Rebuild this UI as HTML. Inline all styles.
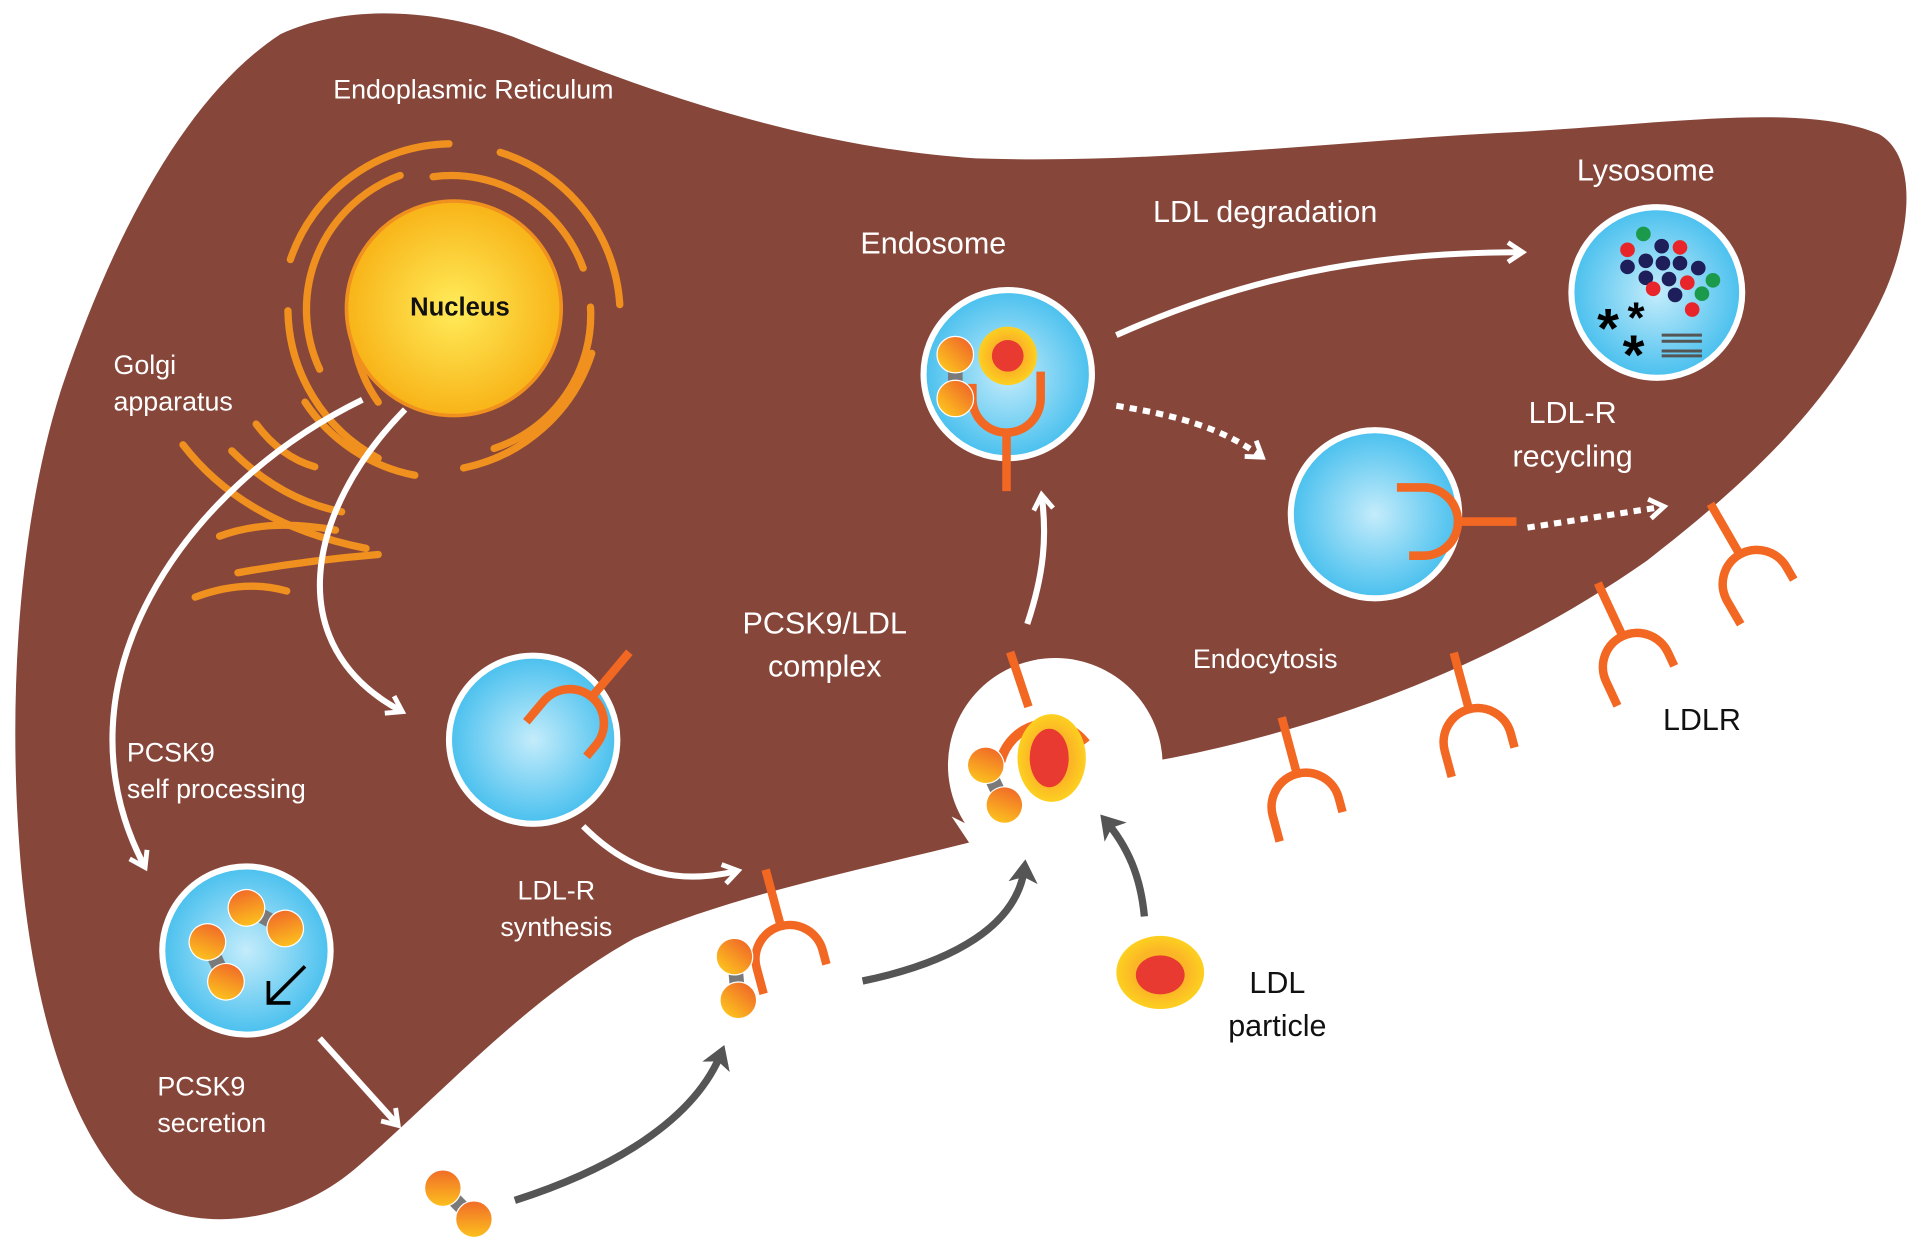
<!DOCTYPE html>
<html><head><meta charset="utf-8"><style>
html,body{margin:0;padding:0;background:#fff;}
svg{display:block;}
text{font-family:"Liberation Sans",sans-serif;}
</style></head><body>
<svg width="1913" height="1243" viewBox="0 0 1568 1020" preserveAspectRatio="none" xmlns="http://www.w3.org/2000/svg">
<defs>
<radialGradient id="ves" cx="50%" cy="50%" r="50%"><stop offset="0" stop-color="#c4ecfb"/><stop offset="1" stop-color="#49c0ee"/></radialGradient>
<radialGradient id="nuc" cx="50%" cy="50%" r="50%"><stop offset="0" stop-color="#ffec5a"/><stop offset="1" stop-color="#f8b418"/></radialGradient>
<linearGradient id="ball" x1="0" y1="1" x2="1" y2="0"><stop offset="0" stop-color="#ffd21c"/><stop offset="1" stop-color="#ee5a2a"/></linearGradient>
<radialGradient id="ldl" cx="50%" cy="50%" r="50%"><stop offset="0.6" stop-color="#fbb626"/><stop offset="1" stop-color="#fdd020"/></radialGradient>
<marker id="aw" viewBox="0 0 10 10" refX="6" refY="5" markerWidth="4" markerHeight="4" orient="auto" markerUnits="strokeWidth"><path d="M1,1 L7,5 L1,9" fill="none" stroke="#fff" stroke-width="2"/></marker>
<marker id="ag" viewBox="0 0 10 10" refX="6" refY="5" markerWidth="4" markerHeight="4" orient="auto" markerUnits="strokeWidth"><path d="M0,0 L8,5 L0,10 L2,5z" fill="#555"/></marker>
<g id="rec"><line x1="0" y1="-48" x2="0" y2="0" stroke="#f26722" stroke-width="7"/><path d="M-28,50 L-28,28 A28,28 0 0 1 28,28 L28,40" fill="none" stroke="#f26722" stroke-width="7"/></g>
<g id="dim"><line x1="0" y1="0" x2="0" y2="36" stroke="#7a7a7a" stroke-width="12"/><circle cx="0" cy="0" r="15" fill="url(#ball)" stroke="#fff" stroke-width="1"/><circle cx="0" cy="36" r="15" fill="url(#ball)" stroke="#fff" stroke-width="1"/></g>
</defs>
<path d="M230,28 C280,5 350,5 420,30 C520,70 650,120 800,130 C950,135 1100,115 1250,108 C1380,100 1480,85 1540,110 C1575,130 1565,200 1540,250 C1500,330 1440,390 1350,460 C1250,530 1120,590 960,622 L860,640 L800,690 C700,715 600,735 520,770 C430,820 360,900 290,960 C230,1010 150,1010 110,980 C60,930 30,840 18,720 C5,580 15,430 50,320 C90,200 150,80 230,28 Z" fill="#87463a"/>
<circle cx="865" cy="628" r="88" fill="#fff"/>
<path d="M780,670 L800,700 L840,700 Z" fill="#fff"/>
<g fill="none" stroke="#f0901e" stroke-width="6" stroke-linecap="round">
<path d="M328,144 A117,117 0 0 0 262,303"/>
<path d="M293,230 A118,118 0 0 0 310,330"/>
<path d="M250,330 A140,140 0 0 0 340,390"/>
<path d="M236,255 A140,140 0 0 0 310,376"/>
<path d="M238,213 A140,140 0 0 1 368,118"/>
<path d="M410,125 A140,140 0 0 1 508,250"/>
<path d="M355,145 A115,115 0 0 1 478,220"/>
<path d="M484,252 A115,115 0 0 1 405,368"/>
<path d="M485,290 A140,140 0 0 1 380,384"/>
<path d="M150,365 Q200,430 300,450"/>
<path d="M190,370 Q230,410 280,420"/>
<path d="M210,348 Q230,375 258,383"/>
<path d="M195,470 Q250,460 310,455"/>
<path d="M160,490 Q200,475 235,485"/>
<path d="M180,440 Q220,425 275,435"/>
</g>
<circle cx="372" cy="253" r="88" fill="url(#nuc)" stroke="#f0901e" stroke-width="3"/>
<text x="377" y="259" font-size="21" font-weight="bold" text-anchor="middle" fill="#111">Nucleus</text>
<g fill="none" stroke="#fff" stroke-width="5" marker-end="url(#aw)">
<path d="M297,328 C150,400 40,560 118,710"/>
<path d="M332,336 C250,420 230,530 328,583"/>
<path d="M478,678 C520,720 560,725 603,715"/>
<path d="M262,852 L325,922"/>
<path d="M842,512 C856,470 858,440 854,408"/>
<path d="M915,275 C1020,228 1120,207 1246,207"/>
<path d="M915,333 C960,340 1000,350 1033,374" stroke-dasharray="6 5"/>
<path d="M1252,433 L1362,416" stroke-dasharray="6 5"/>
</g>
<g fill="none" stroke="#555" stroke-width="6" marker-end="url(#ag)">
<path d="M422,985 C500,960 570,920 592,862"/>
<path d="M707,805 C780,790 835,760 840,710"/>
<path d="M938,752 C935,720 925,695 905,672"/>
</g>
<circle cx="437" cy="607" r="69" fill="url(#ves)" stroke="#fff" stroke-width="5"/>
<circle cx="202" cy="780" r="69" fill="url(#ves)" stroke="#fff" stroke-width="5"/>
<circle cx="826" cy="307" r="69" fill="url(#ves)" stroke="#fff" stroke-width="5"/>
<circle cx="1127" cy="422" r="69" fill="url(#ves)" stroke="#fff" stroke-width="5"/>
<circle cx="1358" cy="240" r="70" fill="url(#ves)" stroke="#fff" stroke-width="5"/>
<use href="#rec" transform="translate(485,572) rotate(40)"/>
<use href="#rec" transform="translate(825,355) rotate(180)"/>
<use href="#rec" transform="translate(1195,428) rotate(90)"/>
<use href="#rec" transform="translate(640,760) rotate(-15)"/>
<use href="#rec" transform="translate(1063,635) rotate(-15)"/>
<use href="#rec" transform="translate(1204,582) rotate(-15)"/>
<use href="#rec" transform="translate(1330,522) rotate(-25)"/>
<use href="#rec" transform="translate(1426,455) rotate(-30)"/>
<use href="#dim" transform="translate(783,291)"/>
<circle cx="826" cy="292" r="24" fill="url(#ldl)"/><circle cx="826" cy="292" r="13" fill="#e83a30"/>
<use href="#dim" transform="translate(202,745) rotate(-62)"/>
<use href="#dim" transform="translate(170,773) rotate(-25)"/>
<path d="M250,793 L220,823 M220,805 L220,823 L238,823" stroke="#000" stroke-width="3" fill="none"/>
<line x1="828" y1="535" x2="843" y2="580" stroke="#f26722" stroke-width="7"/>
<path d="M820,625 A40,42 0 0 1 890,610" fill="none" stroke="#f26722" stroke-width="8"/>
<ellipse cx="862" cy="622" rx="28" ry="36" fill="url(#ldl)"/><ellipse cx="860" cy="622" rx="16" ry="24" fill="#e83a30"/>
<use href="#dim" transform="translate(808,628) rotate(-25)"/>
<use href="#dim" transform="translate(602,785) rotate(-5)"/>
<use href="#dim" transform="translate(363,975) rotate(-45)"/>
<ellipse cx="951" cy="798" rx="36" ry="30" fill="url(#ldl)"/><ellipse cx="951" cy="800" rx="20" ry="16" fill="#e83a30"/>
<g>
<circle cx="1347" cy="192" r="6" fill="#1a9a4a"/>
<circle cx="1334" cy="205" r="6" fill="#e8252a"/><circle cx="1362" cy="202" r="6" fill="#1e1e5a"/><circle cx="1377" cy="203" r="6" fill="#e8252a"/>
<circle cx="1334" cy="219" r="6" fill="#1e1e5a"/><circle cx="1349" cy="214" r="6" fill="#1e1e5a"/><circle cx="1363" cy="216" r="6" fill="#1e1e5a"/><circle cx="1377" cy="216" r="6" fill="#1e1e5a"/><circle cx="1392" cy="220" r="6" fill="#1e1e5a"/>
<circle cx="1349" cy="228" r="6" fill="#1e1e5a"/><circle cx="1368" cy="229" r="6" fill="#1e1e5a"/><circle cx="1383" cy="232" r="6" fill="#e8252a"/><circle cx="1404" cy="230" r="6" fill="#1a9a4a"/>
<circle cx="1355" cy="237" r="6" fill="#e8252a"/><circle cx="1373" cy="242" r="6" fill="#1e1e5a"/><circle cx="1395" cy="241" r="6" fill="#1a9a4a"/><circle cx="1387" cy="254" r="6" fill="#e8252a"/>
<text x="1318" y="285" font-size="46" font-weight="bold" fill="#000" text-anchor="middle">*</text>
<text x="1341" y="273" font-size="36" font-weight="bold" fill="#000" text-anchor="middle">*</text>
<text x="1339" y="307" font-size="46" font-weight="bold" fill="#000" text-anchor="middle">*</text>
<g stroke="#555" stroke-width="2.5"><line x1="1362" y1="275" x2="1395" y2="275"/><line x1="1362" y1="280" x2="1395" y2="280"/><line x1="1362" y1="288" x2="1395" y2="288"/><line x1="1362" y1="292" x2="1395" y2="292"/></g>
</g>
<g fill="#fff" font-size="22">
<text x="388" y="81" text-anchor="middle">Endoplasmic Reticulum</text>
<text x="93" y="307">Golgi</text>
<text x="93" y="337">apparatus</text>
<text x="765" y="208" text-anchor="middle" font-size="25">Endosome</text>
<text x="1037" y="182" text-anchor="middle" font-size="25">LDL degradation</text>
<text x="1349" y="148" text-anchor="middle" font-size="25">Lysosome</text>
<text x="1289" y="347" text-anchor="middle" font-size="25">LDL-R</text>
<text x="1289" y="383" text-anchor="middle" font-size="25">recycling</text>
<text x="676" y="520" text-anchor="middle" font-size="25">PCSK9/LDL</text>
<text x="676" y="555" text-anchor="middle" font-size="25">complex</text>
<text x="1037" y="548" text-anchor="middle">Endocytosis</text>
<text x="104" y="625">PCSK9</text>
<text x="104" y="655">self processing</text>
<text x="456" y="738" text-anchor="middle">LDL-R</text>
<text x="456" y="768" text-anchor="middle">synthesis</text>
<text x="129" y="899">PCSK9</text>
<text x="129" y="929">secretion</text>
</g>
<g fill="#111" font-size="25">
<text x="1395" y="599" text-anchor="middle">LDLR</text>
<text x="1047" y="815" text-anchor="middle">LDL</text>
<text x="1047" y="850" text-anchor="middle">particle</text>
</g>
</svg>
</body></html>
